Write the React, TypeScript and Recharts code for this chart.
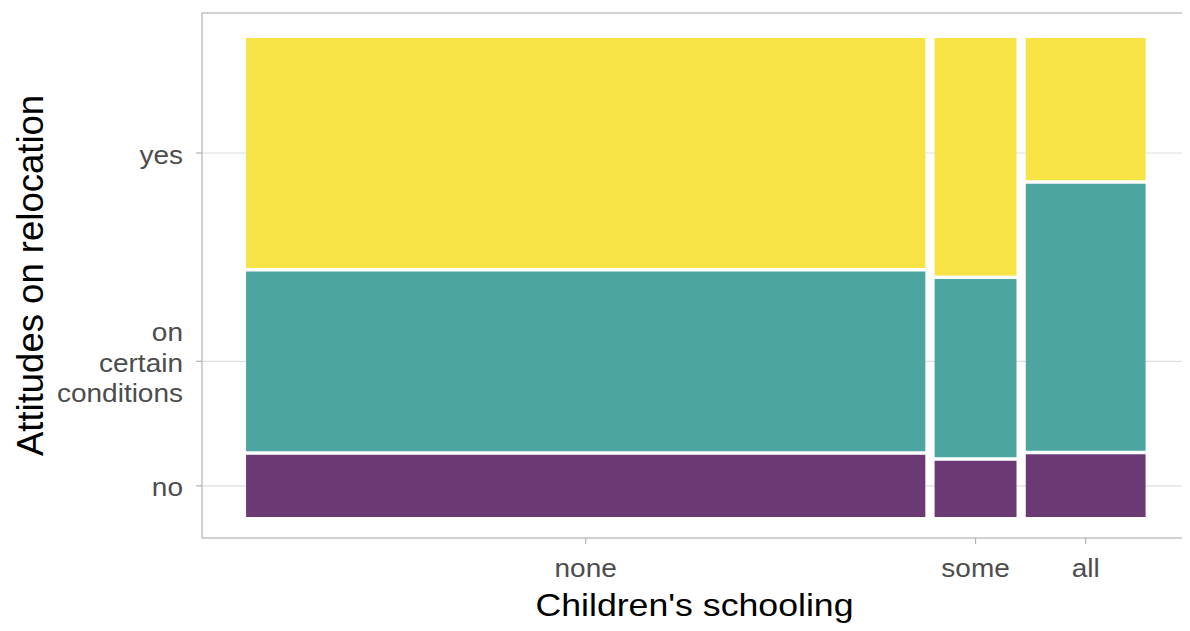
import React from 'react';
import {
  ComposedChart,
  XAxis,
  YAxis,
  CartesianGrid,
  ReferenceArea,
  Scatter,
  Label,
} from 'recharts';

const categories = ['none', 'some', 'all'];
const columnShare = [0.771, 0.093, 0.136];
const attitudes = ['no', 'on\ncertain\nconditions', 'yes']; // bottom to top
const noShare = [0.132, 0.119, 0.133];
const conditionsShare = [0.381, 0.378, 0.566];
const yesShare = [0.487, 0.503, 0.301];
const attitudeColors = ['#6B3A74', '#4CA5A0', '#F8E345'];

// ---- layout constants ----
const X_GAP = 0.0105;
const Y_GAP = 0.0074;
const X_DOMAIN: [number, number] = [-0.05, 1.068];
const Y_DOMAIN: [number, number] = [-0.0445, 1.068];
const FONT = '"Liberation Sans", Arial, Helvetica, sans-serif';

type Cell = { key: string; x1: number; x2: number; y1: number; y2: number; fill: string; cx: number; cy: number };

const cells: Cell[] = [];
const xTicks: number[] = [];
let xCursor = 0;
categories.forEach((cat, i) => {
  const x1 = xCursor;
  const x2 = x1 + columnShare[i];
  xTicks.push((x1 + x2) / 2);
  const shares = [noShare[i], conditionsShare[i], yesShare[i]];
  let yCursor = 0;
  shares.forEach((s, j) => {
    const y1 = yCursor;
    const y2 = y1 + s;
    cells.push({ key: `${cat}-${j}`, x1, x2, y1, y2, fill: attitudeColors[j], cx: (x1 + x2) / 2, cy: (y1 + y2) / 2 });
    yCursor = y2 + Y_GAP;
  });
  xCursor = x2 + X_GAP;
});

// y ticks sit at the centres of the first column's segments
const yTicks: number[] = cells.filter((c) => c.key.startsWith(categories[0] + '-')).map((c) => c.cy);

const XTick = (props: any) => {
  const { x, y, index } = props;
  return (
    <text
      transform={`translate(${x},${y + 29}) scale(1.12,1)`}
      textAnchor="middle"
      fontFamily={FONT}
      fontSize={25}
      fill="#4d4d4d"
    >
      {categories[index]}
    </text>
  );
};

const YTick = (props: any) => {
  const { x, y, index } = props;
  const lines = attitudes[index].split('\n');
  const lh = 30.5;
  const first = y + 10.5 - ((lines.length - 1) / 2) * lh;
  return (
    <g>
      {lines.map((ln, k) => (
        <text
          key={k}
          transform={`translate(${x},${first + k * lh}) scale(1.12,1)`}
          textAnchor="end"
          fontFamily={FONT}
          fontSize={25}
          fill="#4d4d4d"
        >
          {ln}
        </text>
      ))}
    </g>
  );
};

const XTitle = (props: any) => {
  const vb = props.viewBox;
  return (
    <text
      transform={`translate(${vb.x + vb.width / 2},${vb.y + 78}) scale(1.115,1)`}
      textAnchor="middle"
      fontFamily={FONT}
      fontSize={32}
      fill="#000"
    >
      Children's schooling
    </text>
  );
};

const YTitle = (props: any) => {
  const vb = props.viewBox;
  const cx = vb.x + 35;
  const cy = vb.y + vb.height / 2;
  return (
    <text
      transform={`translate(${cx},${cy}) rotate(-90)`}
      textAnchor="middle"
      fontFamily={FONT}
      fontSize={36.5}
      fill="#000"
    >
      Attitudes on relocation
    </text>
  );
};

export default function App() {
  return (
    <div style={{ width: 1182, height: 623, background: '#fff' }}>
      <ComposedChart
        width={1182}
        height={623}
        data={cells}
        margin={{ top: 5, right: 3, left: 0, bottom: 0 }}
      >
        <CartesianGrid vertical={false} stroke="#dedede" strokeWidth={1.2} />
        <XAxis
          type="number"
          dataKey="cx"
          domain={X_DOMAIN}
          ticks={xTicks}
          allowDataOverflow
          height={93}
          axisLine={false}
          tickLine={{ stroke: '#b3b3b3', strokeWidth: 1.2 }}
          tickSize={6}
          tickMargin={4}
          tick={<XTick />}
          interval={0}
        >
          <Label content={<XTitle />} />
        </XAxis>
        <YAxis
          type="number"
          dataKey="cy"
          domain={Y_DOMAIN}
          ticks={yTicks}
          allowDataOverflow
          width={194}
          axisLine={false}
          tickLine={{ stroke: '#b3b3b3', strokeWidth: 1.2 }}
          tickSize={6}
          tickMargin={13}
          tick={<YTick />}
          interval={0}
        >
          <Label content={<YTitle />} />
        </YAxis>
        <Scatter data={cells} dataKey="cy" isAnimationActive={false} shape={() => <g />} />
        {cells.map((c) => (
          <ReferenceArea
            key={c.key}
            x1={c.x1}
            x2={c.x2}
            y1={c.y1}
            y2={c.y2}
            fill={c.fill}
            fillOpacity={1}
            stroke="none"
            ifOverflow="visible"
          />
        ))}
        <ReferenceArea
          x1={X_DOMAIN[0]}
          x2={X_DOMAIN[1]}
          y1={Y_DOMAIN[0]}
          y2={Y_DOMAIN[1]}
          fill="none"
          fillOpacity={0}
          stroke="#b3b3b3"
          strokeWidth={1.2}
          ifOverflow="visible"
        />
      </ComposedChart>
    </div>
  );
}
